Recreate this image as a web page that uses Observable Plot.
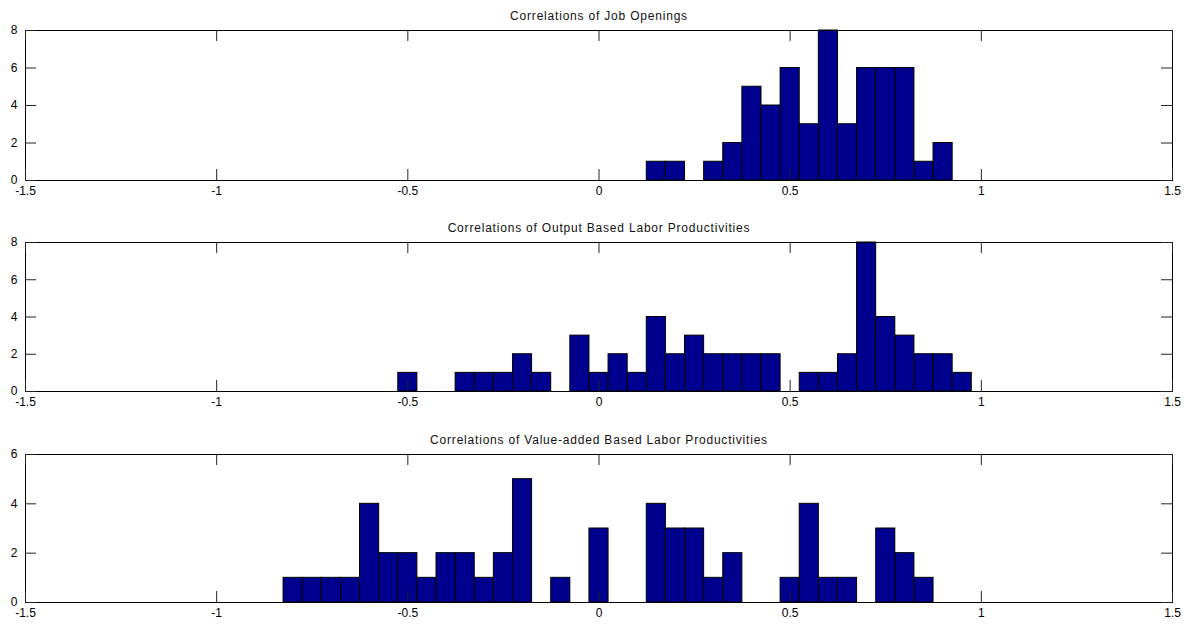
<!DOCTYPE html>
<html>
<head>
<meta charset="utf-8">
<script src="https://cdn.jsdelivr.net/npm/d3@7"></script>
<script src="https://cdn.jsdelivr.net/npm/@observablehq/plot@0.6"></script>
<style>
  html, body { margin: 0; padding: 0; background: #fff; }
  #chart svg { display: block; }
</style>
</head>
<body>
<div id="chart"></div>
<script>
// Histogram bins (centers) and counts, bin width 0.05
const binWidth = 0.05;

const jobTitle = "Correlations of Job Openings";
const jobCenters = [0.15, 0.2, 0.3, 0.35, 0.4, 0.45, 0.5, 0.55, 0.6, 0.65, 0.7, 0.75, 0.8, 0.85, 0.9];
const jobCounts  = [1, 1, 1, 2, 5, 4, 6, 3, 8, 3, 6, 6, 6, 1, 2];

const outTitle = "Correlations of Output Based Labor Productivities";
const outCenters = [-0.5, -0.35, -0.3, -0.25, -0.2, -0.15, -0.05, 0, 0.05, 0.1, 0.15, 0.2, 0.25, 0.3, 0.35, 0.4, 0.45, 0.55, 0.6, 0.65, 0.7, 0.75, 0.8, 0.85, 0.9, 0.95];
const outCounts  = [1, 1, 1, 1, 2, 1, 3, 1, 2, 1, 4, 2, 3, 2, 2, 2, 2, 1, 1, 2, 8, 4, 3, 2, 2, 1];

const vaTitle = "Correlations of Value-added Based Labor Productivities";
const vaCenters = [-0.8, -0.75, -0.7, -0.65, -0.6, -0.55, -0.5, -0.45, -0.4, -0.35, -0.3, -0.25, -0.2, -0.1, 0, 0.15, 0.2, 0.25, 0.3, 0.35, 0.5, 0.55, 0.6, 0.65, 0.75, 0.8, 0.85];
const vaCounts  = [1, 1, 1, 1, 4, 2, 2, 1, 2, 2, 1, 2, 5, 1, 3, 4, 3, 3, 1, 2, 1, 4, 1, 1, 3, 2, 1];

const xTicks = [-1.5, -1, -0.5, 0, 0.5, 1, 1.5];
const yTicks8 = [0, 2, 4, 6, 8];
const yTicks6 = [0, 2, 4, 6];

const W = 1194, ML = 25, MR = 22, MT = 30, TICK = 11;
const barFill = "#00008F";

function panel({title, centers, counts, yMax, yTicks, height, marginBottom}) {
  const data = centers.map((c, i) => ({x: c, n: counts[i]}));
  const innerH = height - MT - marginBottom;
  const innerW = W - ML - MR;
  const svg = Plot.plot({
    width: W, height,
    marginTop: MT, marginBottom, marginLeft: ML, marginRight: MR,
    style: {fontFamily: "'Liberation Sans', Arial, Helvetica, sans-serif", fontSize: "12px", color: "#000", background: "#fff", overflow: "visible"},
    x: {domain: [-1.5, 1.5]},
    y: {domain: [0, yMax]},
    marks: [
      Plot.rectY(data, {x1: d => d.x - binWidth / 2, x2: d => d.x + binWidth / 2, y: "n", fill: barFill, stroke: "#000", strokeWidth: 1, inset: 0}),
      Plot.frame({stroke: "#000"}),
      Plot.tickX(xTicks, {x: d => d, insetTop: innerH - TICK, stroke: "#222"}),
      Plot.tickX(xTicks, {x: d => d, insetBottom: innerH - TICK, stroke: "#222"}),
      Plot.tickY(yTicks, {y: d => d, insetRight: innerW - TICK, stroke: "#222"}),
      Plot.tickY(yTicks, {y: d => d, insetLeft: innerW - TICK, stroke: "#222"}),
      Plot.axisX(xTicks, {tickSize: 0, tickPadding: 6, tickFormat: d => String(d), label: null, fontSize: 12}),
      Plot.axisY(yTicks, {tickSize: 0, tickPadding: 8, tickFormat: d => String(d), label: null, fontSize: 12}),
      Plot.text([title], {text: d => d, frameAnchor: "top", dy: -19, fontSize: 12, fill: "#111"})
    ]
  });
  svg.querySelectorAll("text").forEach(t => {
    if (t.textContent === title) t.setAttribute("letter-spacing", "0.8");
  });
  return svg;
}

const root = document.getElementById("chart");
root.appendChild(panel({title: jobTitle, centers: jobCenters, counts: jobCounts, yMax: 8, yTicks: yTicks8, height: 212, marginBottom: 32}));
root.appendChild(panel({title: outTitle, centers: outCenters, counts: outCounts, yMax: 8, yTicks: yTicks8, height: 212, marginBottom: 33}));
root.appendChild(panel({title: vaTitle, centers: vaCenters, counts: vaCounts, yMax: 6, yTicks: yTicks6, height: 202, marginBottom: 24}));
</script>
</body>
</html>
